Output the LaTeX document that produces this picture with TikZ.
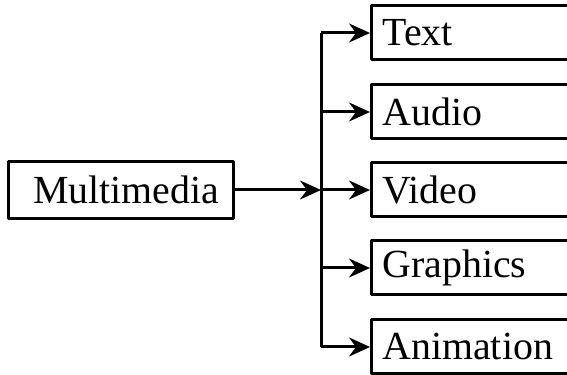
\documentclass[tikz,border=0pt]{standalone}
\usepackage{fontspec}
\setmainfont{Liberation Serif}
\usetikzlibrary{arrows.meta}
\begin{document}
\begin{tikzpicture}[line join=bevel,line width=3bp]
  \tikzset{
    tip/.style={-{Stealth[length=21bp,width=19bp,inset=7bp]}},
    mainbox/.style={draw,rectangle,minimum width=225bp,minimum height=57bp,
      inner sep=0pt,font=\fontsize{40}{42}\selectfont},
    itembox/.style={draw,rectangle,anchor=west,minimum width=270bp,minimum height=54bp,
      text width=248bp,inner xsep=11bp,inner ysep=0pt,font=\fontsize{40}{42}\selectfont}
  }
  \clip (0bp,0bp) rectangle (567bp,375bp);
%%
  % Node: media
  \node[mainbox] (media) at (121bp,185bp) {\hspace*{10bp}Multimedia};
  % Node: txt
  \node[itembox] (txt) at (370bp,342bp) {Text};
  % Node: audio
  \node[itembox] (audio) at (370bp,263bp) {Audio};
  % Node: video
  \node[itembox] (video) at (370bp,185bp) {Video};
  % Node: graphics
  \node[itembox] (graphics) at (370bp,107bp) {Graphics};
  % Node: anim
  \node[itembox] (anim) at (370bp,28bp) {Animation};
  % Bus
  \coordinate (hub) at (321bp,185bp);
  \coordinate (busTop) at (321bp,342bp);
  \coordinate (busBot) at (321bp,28bp);
  \draw (busTop) -- (busBot);
  % Edge: media -> hub
  \draw [tip] (media) -- (hub);
  % Edge: bus -> items
  \draw [tip] (busTop) -- (txt);
  \draw [tip] (busTop |- audio) -- (audio);
  \draw [tip] (hub) -- (video);
  \draw [tip] (busTop |- graphics) -- (graphics);
  \draw [tip] (busBot) -- (anim);
%
\end{tikzpicture}
\end{document}
